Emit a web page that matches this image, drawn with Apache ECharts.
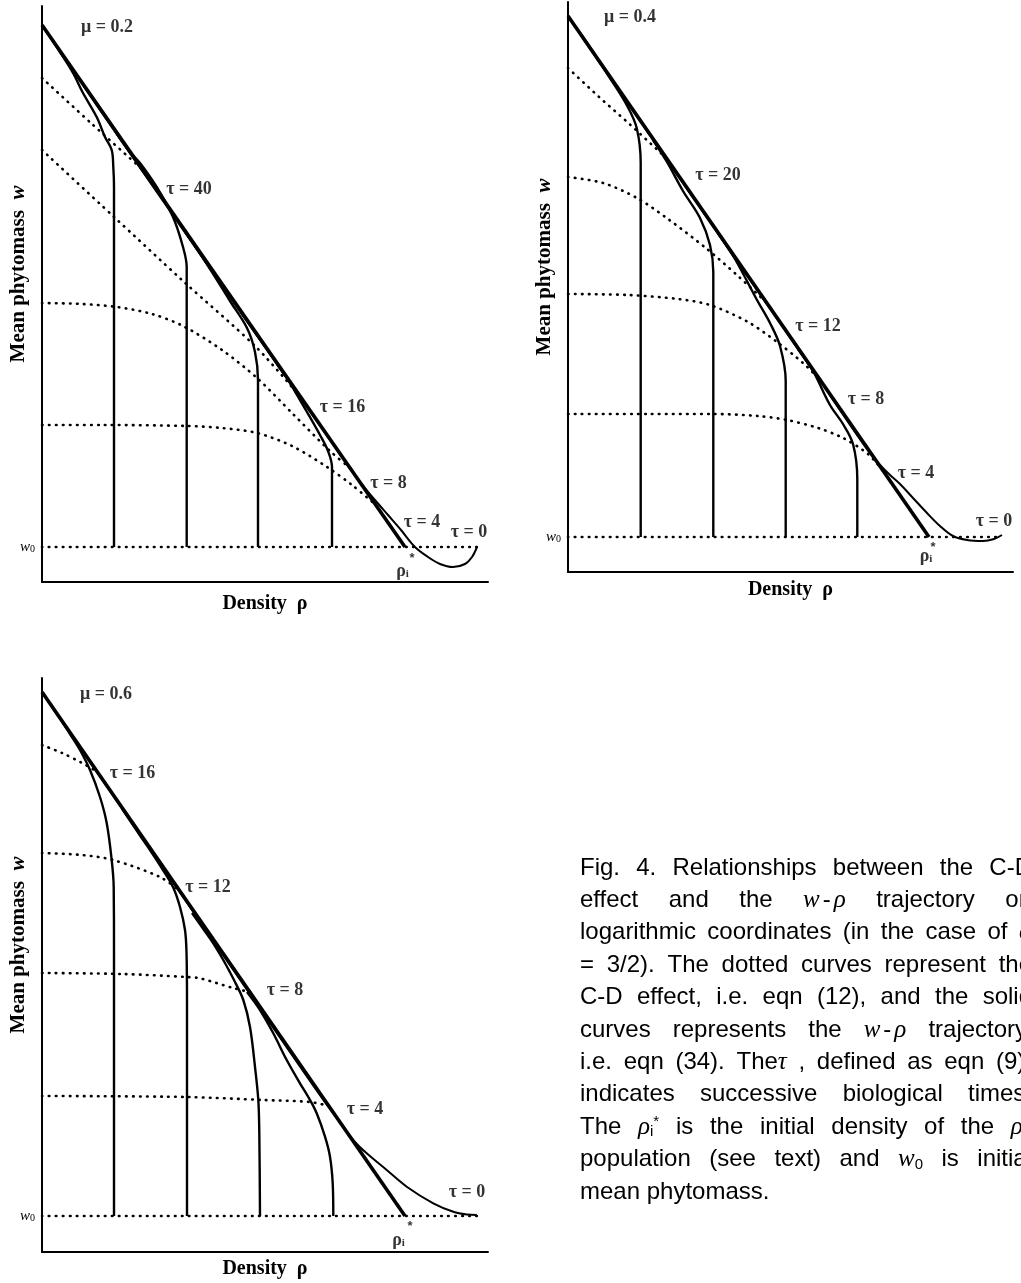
<!DOCTYPE html>
<html>
<head>
<meta charset="utf-8">
<script src="https://cdn.jsdelivr.net/npm/echarts@6/dist/echarts.min.js"></script>
<style>
  html, body { margin: 0; padding: 0; background: #fff; }
  #chart { width: 1021px; height: 1283px; }
</style>
</head>
<body>
<div id="chart"></div>
<script>
const SERIF = '"Liberation Serif", "Times New Roman", serif';
const SANS = '"Liberation Sans", Arial, Helvetica, sans-serif';

// all curves in arbitrary log units: x = log density, y = log mean phytomass

// ---- mu = 0.2 ----
const p1W0 = 35;
const p1Limit = [[0, 557], [363, 35]];
const p1Traj = [
  [[72, 35], [72, 300], [72, 395], [71.3, 415], [69.7, 432], [63, 445], [54.7, 465], [41, 489], [31, 509], [18, 530], [8, 545.5]],
  [[144.7, 35], [144.7, 250], [144.7, 315], [141, 335], [131, 365], [114.7, 395], [98, 419], [88, 430], [75, 448]],
  [[216, 35], [216, 150], [216, 202], [213, 230], [205, 254], [188, 281], [170, 310], [155, 333], [140, 355]],
  [[290, 35], [290, 100], [290, 115], [286, 131], [278, 147], [265, 170], [255, 187], [245, 204], [235, 218]]
];
const p1Dotted = [
  [[0, 504], [50, 458], [101, 412]],
  [[0, 432], [71, 366], [141, 301], [215, 234], [260, 183]],
  [[0, 279], [40, 278], [75, 275], [110, 268], [141, 256], [180, 232], [215, 204], [250, 169], [288, 131], [308, 114]],
  [[0, 157], [60, 157], [145, 156], [180, 154], [215, 149], [250, 136], [285, 115], [310, 97], [335, 76]],
  [[0, 35], [435, 35]]
];
const p1Tau0 = [[0, 557], [20, 527.5], [60, 469], [120, 382.5], [200, 267.5], [280, 153.5], [309, 112], [320.5, 97], [333, 82], [346, 67], [359, 52], [373, 35], [386, 25], [398, 18], [411, 15], [423, 18], [430, 25], [435, 35]];
const p1Labels = [['μ = 0.2', 65, 555], ['τ = 40', 147, 393], ['τ = 16', 300.5, 174.5], ['τ = 8', 346.5, 99], ['τ = 4', 380, 60], ['τ = 0', 427, 50]];
const p1Rho = [360.5, 11];
const p1Star = [370, 24];

// ---- mu = 0.4 ----
const p2W0 = 35;
const p2Limit = [[0, 556], [361, 35]];
const p2Traj = [
  [[72.7, 35], [72.7, 300], [72.7, 409], [68.7, 444], [58.7, 467], [42, 494], [25, 520], [12, 539]],
  [[145.3, 35], [145.3, 200], [145.3, 300], [142, 327], [132, 354], [115, 381], [99, 410], [85, 432]],
  [[217.7, 35], [217.7, 150], [217.7, 191], [212, 226], [202, 249], [189, 272], [167, 313], [150, 339]],
  [[289.3, 35], [289.3, 80], [289.3, 93], [285, 128], [275, 148], [262, 167], [245, 201], [230, 223]]
];
const p2Dotted = [
  [[0, 504], [30, 476], [62, 447.5], [97, 415]],
  [[0, 395], [35, 389], [69, 374], [100, 353], [139, 323], [170, 296], [199, 269]],
  [[0, 278], [60, 277], [110, 273], [142, 267], [180, 250], [209, 230], [235, 209], [252, 192]],
  [[0, 158], [80, 158], [145, 158], [190, 156], [219, 152], [250, 144], [275, 134], [300, 118], [315, 101]],
  [[0, 35], [434, 35]]
];
const p2Tau0 = [[0, 556], [30, 511.5], [100, 410.5], [180, 295], [260, 179.5], [300, 121.5], [312, 107], [322, 97], [332, 88], [345, 74], [359, 59], [372, 46], [385, 36], [399, 32], [415, 31], [426, 33], [434, 37]];
const p2Labels = [['μ = 0.4', 62, 554.5], ['τ = 20', 150, 397], ['τ = 12', 250, 246], ['τ = 8', 298, 173], ['τ = 4', 348, 99], ['τ = 0', 426, 51]];
const p2Rho = [358, 16];
const p2Star = [365, 25];

// ---- mu = 0.6 ----
const p3W0 = 36;
const p3Limit = [[0, 560], [363, 36]];
const p3Traj = [
  [[72, 36], [72, 300], [71.7, 365], [69.7, 392], [64.7, 429], [58, 455], [48, 482], [38, 502], [28, 518], [21, 529], [10, 545]],
  [[145, 36], [145, 250], [144.5, 300], [143, 322], [138, 345], [131, 365], [121, 382], [108, 402], [98, 416.5], [91, 427], [80, 443.5]],
  [[218, 36], [217.3, 119], [216.3, 152], [213, 185], [208, 225], [201.3, 252], [193, 270], [181.3, 292], [173, 306], [162, 322], [150, 339]],
  [[291.3, 36], [290.7, 68.7], [288, 95.3], [283, 115.3], [274.7, 138.7], [268, 152], [258, 168.7], [244.7, 192], [231.3, 218.7], [218, 242], [205, 260]]
];
const p3Dotted = [
  [[0, 507], [20, 499], [40, 489], [54, 481]],
  [[0, 399], [40, 397], [71, 392], [118, 375], [138, 361]],
  [[0, 279], [80, 278], [145, 275], [158, 273.7], [191, 264], [208, 260]],
  [[0, 156], [145, 155], [221, 152], [268, 150], [287, 146]],
  [[0, 36], [435, 36]]
];
const p3Tau0 = [[0, 560], [60, 472.5], [150, 342], [230, 226], [280, 154], [301.3, 125.3], [313, 110], [324.7, 98.7], [344.7, 82], [364.7, 65.3], [391.3, 48.7], [411.3, 40.3], [425, 37.5], [434.7, 37]];
const p3Labels = [['μ = 0.6', 64, 558], ['τ = 16', 90.5, 478.5], ['τ = 12', 166, 365], ['τ = 8', 243, 262], ['τ = 4', 323, 143], ['τ = 0', 425, 60]];
const p3Rho = [356.5, 12];
const p3Star = [368, 26];

const captionLines = [
  'Fig. 4. Relationships between the C-D',
  'effect and the {m|w}{h|-}{m|ρ} trajectory on',
  'logarithmic coordinates (in the case of {m|α}',
  '= 3/2). The dotted curves represent the',
  'C-D effect, i.e. eqn (12), and the solid',
  'curves represents the {m|w}{h|-}{m|ρ} trajectory,',
  'i.e. eqn (34). The{m|τ} , defined as eqn (9),',
  'indicates successive biological times.',
  'The {m|ρ}{s|i}{p|*} is the initial density of the {m|ρ}{s|i}{p|*}',
  'population (see text) and {m|w}{s|0} is initial',
  'mean phytomass.'
];

const panels = [
  { grid: { left: 42, top: 6, width: 446, height: 576 }, xGap: 12, yGap: 13,
    w0: p1W0, limit: p1Limit, traj: p1Traj, dotted: p1Dotted, tau0: p1Tau0, labels: p1Labels, rho: p1Rho, star: p1Star },
  { grid: { left: 568, top: 2, width: 445, height: 570 }, xGap: 8, yGap: 13,
    w0: p2W0, limit: p2Limit, traj: p2Traj, dotted: p2Dotted, tau0: p2Tau0, labels: p2Labels, rho: p2Rho, star: p2Star },
  { grid: { left: 42, top: 678, width: 446, height: 574 }, xGap: 7, yGap: 13,
    w0: p3W0, limit: p3Limit, traj: p3Traj, dotted: p3Dotted, tau0: p3Tau0, labels: p3Labels, rho: p3Rho, star: p3Star }
];

const grids = [], xAxes = [], yAxes = [], series = [];

function curve(idx, data, lineStyle, z, smooth) {
  return {
    type: 'line', xAxisIndex: idx, yAxisIndex: idx, data: data,
    symbol: 'none', showSymbol: false, smooth: smooth, silent: true,
    clip: false, lineStyle: lineStyle, z: z
  };
}

panels.forEach((p, i) => {
  grids.push(Object.assign({ containLabel: false, outerBoundsMode: 'none' }, p.grid));
  xAxes.push({
    gridIndex: i, type: 'value', min: 0, max: p.grid.width,
    axisLine: { lineStyle: { color: '#000', width: 2 } },
    axisTick: { show: false }, axisLabel: { show: false }, splitLine: { show: false },
    name: 'Density  ρ', nameLocation: 'middle', nameGap: p.xGap, nameMoveOverlap: false,
    nameTextStyle: { color: '#000', fontFamily: SERIF, fontSize: 20, fontWeight: 'bold', verticalAlign: 'top' }
  });
  yAxes.push({
    gridIndex: i, type: 'value', min: 0, max: p.grid.height,
    axisLine: { lineStyle: { color: '#000', width: 2 } },
    axisTick: { show: false }, splitLine: { show: false },
    axisLabel: {
      customValues: [p.w0], margin: 7, color: '#000',
      formatter: () => '{w|w}{z|0}',
      rich: {
        w: { fontFamily: SERIF, fontStyle: 'italic', fontSize: 15, color: '#000' },
        z: { fontFamily: SERIF, fontSize: 10, color: '#000', verticalAlign: 'bottom' }
      }
    },
    name: 'Mean phytomass  {i|w}', nameLocation: 'middle', nameGap: p.yGap, nameRotate: 90,
    nameMoveOverlap: false,
    nameTextStyle: {
      color: '#000', fontFamily: SERIF, fontSize: 21, fontWeight: 'bold', padding: [0, 0, 0, 40],
      rich: { i: { fontFamily: SERIF, fontSize: 21, fontStyle: 'italic', color: '#000' } }
    }
  });

  const dotStyle = { color: '#000', width: 2.6, type: [0.6, 6.4], cap: 'round' };
  p.dotted.forEach(d => series.push(curve(i, d, dotStyle, 2, 0.3)));
  p.traj.forEach(d => series.push(curve(i, d, { color: '#000', width: 2.4 }, 3, 0.35)));
  series.push(curve(i, p.tau0, { color: '#000', width: 2 }, 3, 0.35));
  series.push(curve(i, p.limit, { color: '#000', width: 3.6 }, 4, false));

  const labelData = p.labels.map(l => ({ name: l[0], value: [l[1], l[2]] }));
  labelData.push({ name: '{r|ρ}{s|i}', value: p.rho });
  labelData.push({ name: '{a|*}', value: p.star });
  series.push({
    type: 'scatter', xAxisIndex: i, yAxisIndex: i, symbolSize: 0, silent: true, clip: false, z: 6,
    data: labelData,
    label: {
      show: true, position: 'inside', formatter: q => q.name,
      color: '#000', fontFamily: SERIF, fontSize: 18, fontWeight: 'bold',
      rich: {
        r: { fontFamily: SERIF, fontSize: 18, color: '#000' },
        s: { fontFamily: SERIF, fontSize: 11, color: '#000', verticalAlign: 'bottom' },
        a: { fontFamily: SANS, fontSize: 13, fontWeight: 'bold', color: '#000' }
      }
    }
  });
});

// caption, justified like the printed text
const capFont = { fontFamily: SANS, fontSize: 24 };
const capRich = {
  m: { fontFamily: SERIF, fontStyle: 'italic', fontSize: 25, fill: '#000', color: '#000' },
  h: { fontFamily: SANS, fontSize: 24, padding: [0, 3], color: '#000' },
  s: { fontFamily: SANS, fontSize: 15, verticalAlign: 'bottom', color: '#000' },
  p: { fontFamily: SANS, fontSize: 15, verticalAlign: 'top', color: '#000' }
};
const capLeft = 580, capRight = 1032, capTop = 868, capStep = 32.4;

function tokenWidth(t) {
  const el = new echarts.graphic.Text({ style: Object.assign({ text: t, rich: capRich }, capFont) });
  return el.getBoundingRect().width;
}

const captionEls = [];
captionLines.forEach((line, li) => {
  const words = line.split(' ');
  const widths = words.map(tokenWidth);
  const total = widths.reduce((a, b) => a + b, 0);
  const last = li === captionLines.length - 1;
  const gap = last ? tokenWidth(' ') : (capRight - capLeft - total) / (words.length - 1);
  let x = capLeft;
  words.forEach((w, wi) => {
    captionEls.push({
      type: 'text', x: x, y: capTop + li * capStep, silent: true,
      style: Object.assign({
        text: w, fill: '#000', rich: capRich,
        align: 'left', verticalAlign: 'middle', textAlign: 'left', textVerticalAlign: 'middle'
      }, capFont)
    });
    x += widths[wi] + gap;
  });
});

const chart = echarts.init(document.getElementById('chart'));
chart.setOption({
  animation: false,
  backgroundColor: '#fff',
  grid: grids,
  xAxis: xAxes,
  yAxis: yAxes,
  series: series,
  graphic: { elements: captionEls }
});
</script>
</body>
</html>
